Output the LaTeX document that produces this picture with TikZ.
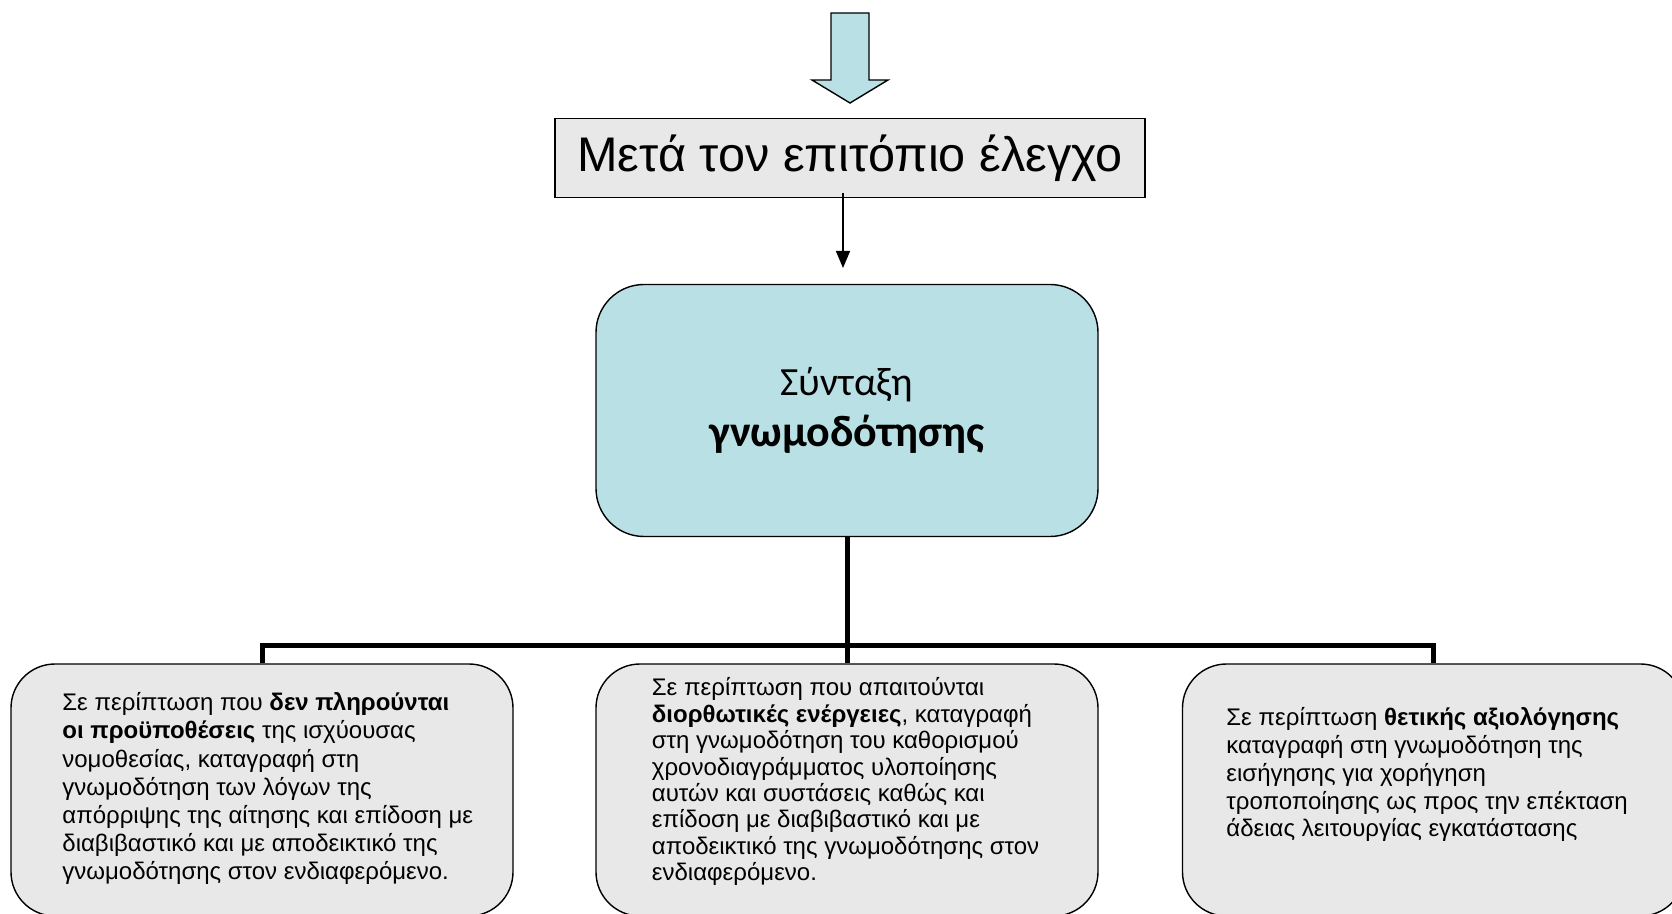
\documentclass[tikz,border=0pt]{standalone}
\usepackage{fontspec}
\setmainfont{Liberation Sans}
\newfontfamily\calibri{Carlito}
\usetikzlibrary{arrows.meta,positioning}
\definecolor{lightcyan}{RGB}{185,224,228}
\definecolor{boxgray}{RGB}{232,232,232}
\tikzset{
    %Define standard arrow tip
    >={Triangle[length=8.5pt,width=7pt]},
    %Define style for the title box
    titlebox/.style={
           rectangle,
           draw=black,
           fill=boxgray,
           line width=0.7pt,
           minimum width=295pt,
           minimum height=39.5pt,
           inner sep=0pt,
           font=\fontsize{24.3}{29}\selectfont},
    %Define style for the rounded boxes
    mainbox/.style={
           rectangle,
           rounded corners=24pt,
           draw=black,
           fill=lightcyan,
           line width=0.7pt,
           minimum width=251pt,
           minimum height=126pt,
           align=center,
           font=\calibri\fontsize{20}{25.5}\selectfont},
    casebox/.style={
           rectangle,
           rounded corners=22pt,
           draw=black,
           fill=boxgray,
           line width=0.7pt,
           minimum width=251pt,
           minimum height=126pt},
    %Text of the boxes: anchored at the baseline of its last line
    casetext/.style={
           align=left,
           inner sep=0pt,
           anchor=base west,
           font=\fontsize{12}{#1}\selectfont},
    % Define arrow style
    pil/.style={
           ->,
           line width=0.7pt},
    bar/.style={
           line width=2.5pt}
}
\begin{document}
\begin{tikzpicture}[x=0.5pt,y=-0.5pt]
  \clip (0,0) rectangle (1672,914);
  % arrow coming in from above
  \draw[fill=lightcyan,line width=0.7pt] (831,13) -- (869,13) -- (869,80) -- (888,80)
    -- (850,103) -- (812,80) -- (831,80) -- cycle;
  \node[titlebox] (title) at (850,158) {Μετά τον επιτόπιο έλεγχο};
  \node[mainbox] (opinion) at (847,410.5) {Σύνταξη\\{\fontsize{22}{25.5}\selectfont\bfseries γνωμοδότησης}};
  \coordinate (optip) at (843,268);
  \draw[pil] ([yshift=2.5pt]title.south -| optip) -- (optip);
  % the three cases
  \node[casebox] (reject) at (262,790) {};
  \node[casebox] (fix) at (847,790) {};
  \node[casebox] (accept) at (1433.5,790) {};
  \coordinate (split) at (847,646);
  \draw[bar] (opinion.south) -- (fix.north);
  \draw[bar] (reject.north) -- (reject.north |- split) -- (accept.north |- split) -- (accept.north);
  \node[casetext=14.1pt] (rejecttxt) at (62,879.9) {Σε περίπτωση που \textbf{δεν πληρούνται}\\
    \textbf{οι προϋποθέσεις} της ισχύουσας\\
    νομοθεσίας, καταγραφή στη\\
    γνωμοδότηση των λόγων της\\
    απόρριψης της αίτησης και επίδοση με\\
    διαβιβαστικό και με αποδεικτικό της\\
    γνωμοδότησης στον ενδιαφερόμενο.};
  \node[casetext=13.2pt] (fixtxt) at (651.5,880.6) {Σε περίπτωση που απαιτούνται\\
    \textbf{διορθωτικές ενέργειες}, καταγραφή\\
    στη γνωμοδότηση του καθορισμού\\
    χρονοδιαγράμματος υλοποίησης\\
    αυτών και συστάσεις καθώς και\\
    επίδοση με διαβιβαστικό και με\\
    αποδεικτικό της γνωμοδότησης στον\\
    ενδιαφερόμενο.};
  \node[casetext=13.9pt] (accepttxt) at (1226,836.8) {Σε περίπτωση \textbf{θετικής αξιολόγησης}\\
    καταγραφή στη γνωμοδότηση της\\
    εισήγησης για χορήγηση\\
    τροποποίησης ως προς την επέκταση\\
    άδειας λειτουργίας εγκατάστασης};
\end{tikzpicture}
\end{document}
